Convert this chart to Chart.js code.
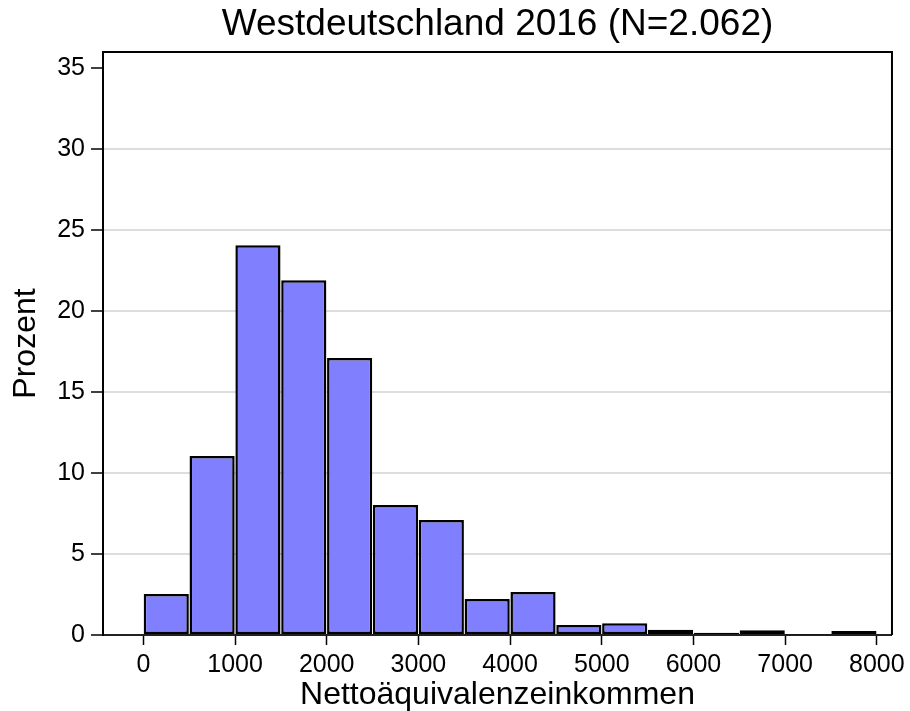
<!DOCTYPE html>
<html>
<head>
<meta charset="utf-8">
<script src="https://cdn.jsdelivr.net/npm/chart.js@4"></script>
<style>
  body { margin: 0; background: #fff; }
  #wrap { width: 910px; height: 711px; }
</style>
</head>
<body>
<div id="wrap"><canvas id="myChart" width="910" height="711"></canvas></div>
<script>
// Histogramm: Klassen zu je 500
const binStart = [0, 500, 1000, 1500, 2000, 2500, 3000, 3500, 4000, 4500, 5000, 5500, 6000, 6500, 7000, 7500];
const binWidth = 500;
const prozent = [2.53, 11.05, 24.07, 21.9, 17.1, 8.02, 7.1, 2.22, 2.65, 0.62, 0.72, 0.33, 0.14, 0.29, 0.03, 0.25];
const xTicks = [0, 1000, 2000, 3000, 4000, 5000, 6000, 7000, 8000];
const yTicks = [0, 5, 10, 15, 20, 25, 30, 35];

const font = 'Liberation Sans, Arial, Helvetica, sans-serif';

const framePlugin = {
    id: 'frame',
    afterDatasetsDraw(chart) {
        const a = chart.chartArea;
        const c = chart.ctx;
        c.save();
        c.strokeStyle = '#000';
        c.lineWidth = 2;
        c.beginPath();
        c.moveTo(a.left, a.top);
        c.lineTo(a.right, a.top);
        c.lineTo(a.right, a.bottom);
        c.stroke();
        c.restore();
    }
};

const ctx = document.getElementById('myChart');

new Chart(ctx, {
    type: 'bar',
    data: {
        datasets: [{
            data: binStart.map((s, i) => ({ x: s + binWidth / 2, y: prozent[i] })),
            backgroundColor: '#8080ff',
            borderColor: '#000',
            borderWidth: 2.5,
            borderSkipped: false,
            barPercentage: 0.985,
            categoryPercentage: 1
        }]
    },
    plugins: [framePlugin],
    options: {
        responsive: false,
        animation: false,
        layout: { padding: { left: 0, right: 18, top: 0, bottom: 0 } },
        plugins: {
            legend: { display: false },
            tooltip: { enabled: false },
            title: {
                display: true,
                fullSize: false,
                text: 'Westdeutschland 2016 (N=2.062)',
                color: '#000',
                font: { family: font, size: 37, weight: 'normal', lineHeight: 1.2 },
                padding: { top: 3, bottom: 4.6 }
            }
        },
        scales: {
            x: {
                type: 'linear',
                offset: false,
                min: -440,
                max: 8165,
                afterBuildTicks: s => { s.ticks = xTicks.map(v => ({ value: v })); },
                afterFit: s => { s.height = 76; },
                grid: { offset: false, drawOnChartArea: false, tickLength: 10, tickColor: '#000', tickWidth: 1.5 },
                border: { color: '#222', width: 2 },
                ticks: {
                    color: '#000',
                    font: { family: font, size: 25 },
                    padding: 5,
                    maxRotation: 0,
                    callback: v => String(v)
                },
                title: {
                    display: true,
                    text: 'Nettoäquivalenzeinkommen',
                    color: '#000',
                    font: { family: font, size: 32, lineHeight: 1 },
                    padding: { top: 0, bottom: 0 }
                }
            },
            y: {
                min: 0,
                max: 36,
                afterBuildTicks: s => { s.ticks = yTicks.map(v => ({ value: v })); },
                afterFit: s => { s.width = 103; },
                grid: {
                    color: c => (c.tick && c.tick.value > 0 && c.tick.value < 35) ? '#dddddd' : 'rgba(0,0,0,0)',
                    lineWidth: 2,
                    tickLength: 12,
                    tickColor: '#000',
                    tickWidth: 1.5
                },
                border: { color: '#000', width: 2 },
                ticks: { color: '#000', font: { family: font, size: 25 }, padding: 6 },
                title: {
                    display: true,
                    text: 'Prozent',
                    color: '#000',
                    font: { family: font, size: 32, lineHeight: 1 },
                    padding: { top: 10, bottom: 0 }
                }
            }
        }
    }
});
</script>
</body>
</html>
